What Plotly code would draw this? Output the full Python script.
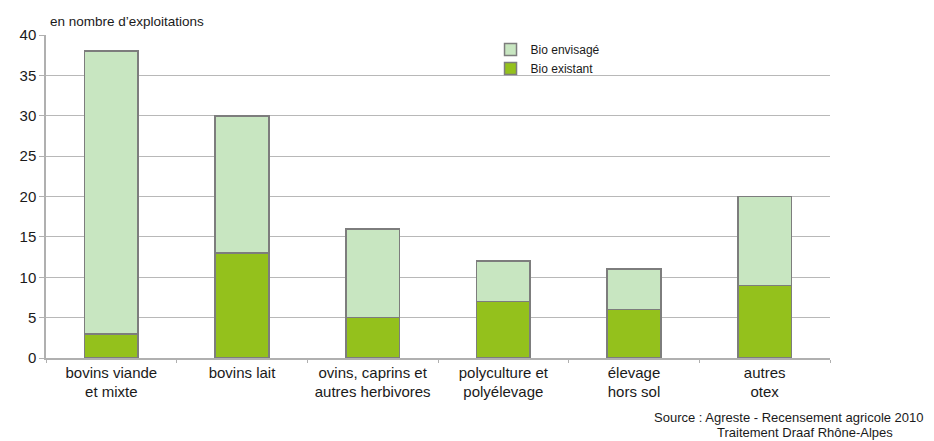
import plotly.graph_objects as go

categories = ["bovins viande<br>et mixte", "bovins lait", "ovins, caprins et<br>autres herbivores",
              "polyculture et<br>polyélevage", "élevage<br>hors sol", "autres<br>otex"]
bio_existant = [3, 13, 5, 7, 6, 9]
bio_envisage = [35, 17, 11, 5, 5, 11]
y_ticks = [0, 5, 10, 15, 20, 25, 30, 35, 40]

FONT = "Liberation Sans, Arial, sans-serif"

fig = go.Figure()
fig.add_trace(go.Bar(x=categories, y=bio_existant, name="Bio existant",
                     marker=dict(color="#94c11c", line=dict(color="#7d7d7d", width=1.5))))
fig.add_trace(go.Bar(x=categories, y=bio_envisage, name="Bio envisagé",
                     marker=dict(color="#c8e6c1", line=dict(color="#7d7d7d", width=1.5))))

fig.update_layout(
    barmode="stack", bargap=0.59,
    width=926, height=433,
    margin=dict(l=32, r=104, t=27, b=83),
    plot_bgcolor="white", paper_bgcolor="white",
    font=dict(family=FONT, size=15, color="#1a1a1a"),
    legend=dict(x=0.567, y=1.0, xanchor="left", yanchor="top", traceorder="reversed",
                bgcolor="rgba(0,0,0,0)", font=dict(size=12), tracegroupgap=0,
                borderwidth=0),
    yaxis=dict(range=[0, 40], tickvals=y_ticks, showgrid=True, gridcolor="#b8b8b8",
               gridwidth=1, showline=True, linecolor="#b0b0b0", linewidth=1.5,
               ticks="outside", ticklen=5, tickcolor="#b0b0b0", zeroline=False,
               tickfont=dict(size=15)),
    xaxis=dict(showline=True, linecolor="#b0b0b0", linewidth=1.5, showgrid=False,
               ticks="outside", tickson="boundaries", ticklen=3, tickcolor="#b0b0b0",
               tickfont=dict(size=15)),
    annotations=[
        dict(text="en nombre d’exploitations", x=0.0025, y=1.0, xref="paper", yref="paper",
             xanchor="left", yanchor="middle", showarrow=False, font=dict(size=13.5), yshift=14),
        dict(text="Source : Agreste - Recensement agricole 2010", x=1.1228, y=-0.1827,
             xref="paper", yref="paper", xanchor="right", yanchor="middle", showarrow=False,
             font=dict(size=13)),
        dict(text="Traitement Draaf Rhône-Alpes", x=0.9677, y=-0.232, xref="paper",
             yref="paper", xanchor="center", yanchor="middle", showarrow=False,
             font=dict(size=13)),
    ],
)
fig.write_html("out.html")
